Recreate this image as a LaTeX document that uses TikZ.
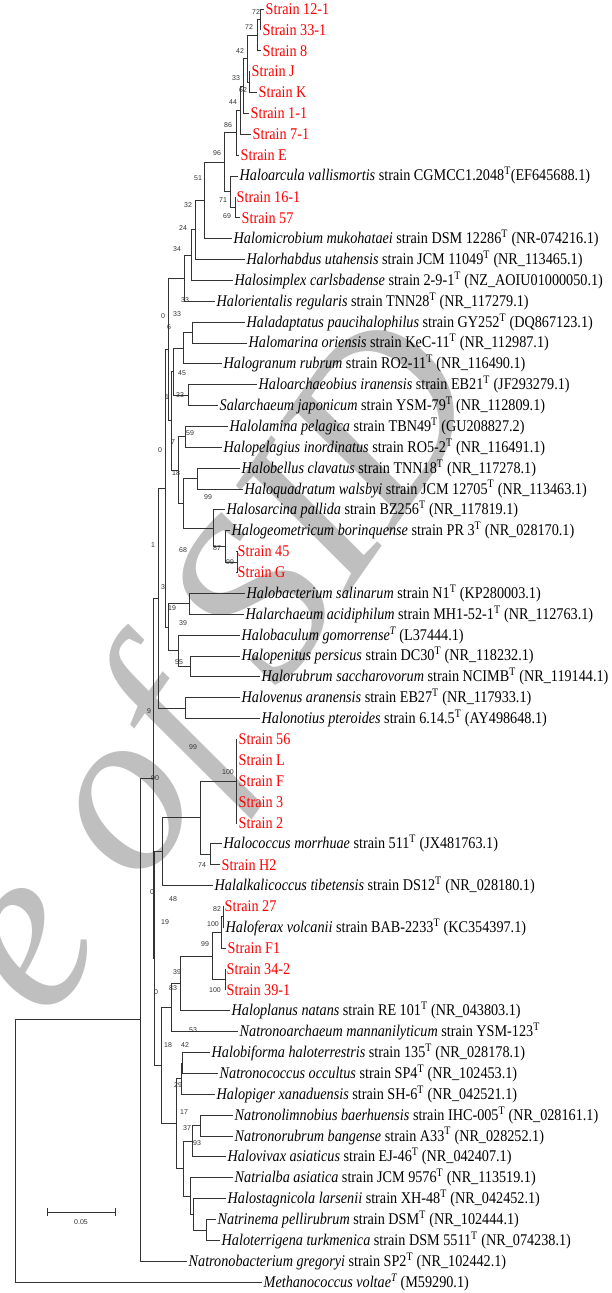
\documentclass[tikz,border=0pt]{standalone}
\usepackage{fontspec}
\setmainfont{Liberation Serif}
\setsansfont{Liberation Sans}
\usepackage{graphicx}
\usetikzlibrary{positioning,calc}

\newcommand{\tall}[1]{\scalebox{1}[1.15]{#1}}
\newcommand{\tp}{\textsuperscript{T}}

\tikzset{
  branch/.style={draw=black!80, line width=0.8pt},
  leaf/.style={anchor=west, inner sep=1.5pt, font=\fontsize{14.2}{15}\selectfont},
  strain/.style={leaf, text=red},
  taxon/.style={leaf, text=black},
  boot/.style={font=\sffamily\fontsize{7}{8}\selectfont, text=black!80, inner sep=0pt},
  wmark/.style={text=black!25, font=\itshape\fontsize{235}{235}\selectfont}
}

\begin{document}
\begin{tikzpicture}[x=1pt,y=-1pt]
\useasboundingbox (0,0) rectangle (612,1293);

% watermark
\node[wmark, rotate=55] (wm) at (222,675) {e of SID};

% tips and labels
\foreach \i/\tx/\st/\lab in {
  0/264/strain/{Strain 12-1},
  1/261/strain/{Strain 33-1},
  2/261/strain/{Strain 8},
  3/250/strain/{Strain J},
  4/257/strain/{Strain K},
  5/249/strain/{Strain 1-1},
  6/251/strain/{Strain 7-1},
  7/239/strain/{Strain E},
  8/238/taxon/{\textit{Haloarcula vallismortis} strain CGMCC1.2048\tp(EF645688.1)},
  9/235/strain/{Strain 16-1},
  10/240/strain/{Strain 57},
  11/232/taxon/{\textit{Halomicrobium mukohataei} strain DSM 12286\tp{} (NR-074216.1)},
  12/245/taxon/{\textit{Halorhabdus utahensis} strain JCM 11049\tp{} (NR\_113465.1)},
  13/233/taxon/{\textit{Halosimplex carlsbadense} strain 2-9-1\tp{} (NZ\_AOIU01000050.1)},
  14/215/taxon/{\textit{Halorientalis regularis} strain TNN28\tp{} (NR\_117279.1)},
  15/245/taxon/{\textit{Haladaptatus paucihalophilus} strain GY252\tp{} (DQ867123.1)},
  16/247/taxon/{\textit{Halomarina oriensis} strain KeC-11\tp{} (NR\_112987.1)},
  17/222/taxon/{\textit{Halogranum rubrum} strain RO2-11\tp{} (NR\_116490.1)},
  18/257/taxon/{\textit{Haloarchaeobius iranensis} strain EB21\tp{} (JF293279.1)},
  19/218/taxon/{\textit{Salarchaeum japonicum} strain YSM-79\tp{} (NR\_112809.1)},
  20/228/taxon/{\textit{Halolamina pelagica} strain TBN49\tp{} (GU208827.2)},
  21/222/taxon/{\textit{Halopelagius inordinatus} strain RO5-2\tp{} (NR\_116491.1)},
  22/240/taxon/{\textit{Halobellus clavatus} strain TNN18\tp{} (NR\_117278.1)},
  23/243/taxon/{\textit{Haloquadratum walsbyi} strain JCM 12705\tp{} (NR\_113463.1)},
  24/225/taxon/{\textit{Halosarcina pallida} strain BZ256\tp{} (NR\_117819.1)},
  25/230/taxon/{\textit{Halogeometricum borinquense} strain PR 3\tp{} (NR\_028170.1)},
  26/236/strain/{Strain 45},
  27/236/strain/{Strain G},
  28/245/taxon/{\textit{Halobacterium salinarum} strain N1\tp{} (KP280003.1)},
  29/244/taxon/{\textit{Halarchaeum acidiphilum} strain MH1-52-1\tp{} (NR\_112763.1)},
  30/240/taxon/{\textit{Halobaculum gomorrense\tp} (L37444.1)},
  31/240/taxon/{\textit{Halopenitus persicus} strain DC30\tp{} (NR\_118232.1)},
  32/260/taxon/{\textit{Halorubrum saccharovorum} strain NCIMB\tp{} (NR\_119144.1)},
  33/240/taxon/{\textit{Halovenus aranensis} strain EB27\tp{} (NR\_117933.1)},
  34/260/taxon/{\textit{Halonotius pteroides} strain 6.14.5\tp{} (AY498648.1)},
  35/237/strain/{Strain 56},
  36/237/strain/{Strain L},
  37/237/strain/{Strain F},
  38/237/strain/{Strain 3},
  39/237/strain/{Strain 2},
  40/222/taxon/{\textit{Halococcus morrhuae} strain 511\tp{} (JX481763.1)},
  41/220/strain/{Strain H2},
  42/213/taxon/{\textit{Halalkalicoccus tibetensis} strain DS12\tp{} (NR\_028180.1)},
  43/223/strain/{Strain 27},
  44/224/taxon/{\textit{Haloferax volcanii} strain BAB-2233\tp{} (KC354397.1)},
  45/226/strain/{Strain F1},
  46/225/strain/{Strain 34-2},
  47/225/strain/{Strain 39-1},
  48/230/taxon/{\textit{Haloplanus natans} strain RE 101\tp{} (NR\_043803.1)},
  49/238/taxon/{\textit{Natronoarchaeum mannanilyticum} strain YSM-123\tp},
  50/210/taxon/{\textit{Halobiforma haloterrestris} strain 135\tp{} (NR\_028178.1)},
  51/218/taxon/{\textit{Natronococcus occultus} strain SP4\tp{} (NR\_102453.1)},
  52/215/taxon/{\textit{Halopiger xanaduensis} strain SH-6\tp{} (NR\_042521.1)},
  53/233/taxon/{\textit{Natronolimnobius baerhuensis} strain IHC-005\tp{} (NR\_028161.1)},
  54/233/taxon/{\textit{Natronorubrum bangense} strain A33\tp{} (NR\_028252.1)},
  55/226/taxon/{\textit{Halovivax asiaticus} strain EJ-46\tp{} (NR\_042407.1)},
  56/233/taxon/{\textit{Natrialba asiatica} strain JCM 9576\tp{} (NR\_113519.1)},
  57/226/taxon/{\textit{Halostagnicola larsenii} strain XH-48\tp{} (NR\_042452.1)},
  58/216/taxon/{\textit{Natrinema pellirubrum} strain DSM\tp{} (NR\_102444.1)},
  59/220/taxon/{\textit{Haloterrigena turkmenica} strain DSM 5511\tp{} (NR\_074238.1)},
  60/187/taxon/{\textit{Natronobacterium gregoryi} strain SP2\tp{} (NR\_102442.1)},
  61/262/taxon/{\textit{Methanococcus voltae\tp} (M59290.1)}}
{
  \pgfmathsetmacro{\ty}{9+20.87*\i}
  \coordinate (t\i) at (\tx,\ty);
  \node[\st] (L\i) at (t\i) {\tall{\lab}};
}

% inner nodes: name/x/row
\foreach \n/\x/\k in {
  a1/260/0.5, a2/257/1.25, a3/249/3.5, a4/247/2.375, a5/243/3.6875,
  a6/240/4.844, a7/236/5.922, a8/235/9.5, a9/230/8.75, a10/224/7.336,
  a11/204/9.168, a12/195/10.584, a13/191/11.792, a14/184/12.896,
  m1/192/15.5, m2/183/16.25, m3/188/18.5, m4/173/17.375, m5/185/20.5,
  m6/197/22.5, m7/237/26.5, m8/225/25.75, m9/213/24.875, m10/183/23.6875,
  m11/178/22.094, m12/171/19.734, a15/168/16.315,
  c1/189/28.5, c2/190/31.5, c3/178/30.75, c4/168/29.625, a16/165/22.97,
  c5/185/33.5, a17/158/28.235,
  d1/236/37, d2/210/40.5, d3/200/38.75, d4/162/40.375,
  e1/223/43.5, e2/221/44.25, e3/225/46.5, e4/212/45.375, e5/180/46.6875,
  e6/171/47.844, f1/182/50.5, f2/181/51.25,
  g1/200/53.5, g2/192/54.25, g3/206/58.5, g4/193/57.75, g5/190/56.875,
  g6/183/55.5625, g7/176/53.406, g8/161/50.625,
  h1/154/45.5, a18/153/36.87, a19/140/48.43, rt/15/54.72}
{
  \pgfmathsetmacro{\ny}{9+20.87*\k}
  \coordinate (\n) at (\x,\ny);
}

% branches
\foreach \p/\c in {
  a1/t0, a1/t1, a2/a1, a2/t2, a3/t3, a3/t4, a4/a2, a4/a3, a5/a4, a5/t5,
  a6/a5, a6/t6, a7/a6, a7/t7, a8/t9, a8/t10, a9/t8, a9/a8, a10/a7, a10/a9,
  a11/a10, a11/t11, a12/a11, a12/t12, a13/a12, a13/t13, a14/a13, a14/t14,
  m1/t15, m1/t16, m2/m1, m2/t17, m3/t18, m3/t19, m4/m2, m4/m3,
  m5/t20, m5/t21, m6/t22, m6/t23, m7/t26, m7/t27, m8/t25, m8/m7,
  m9/t24, m9/m8, m10/m6, m10/m9, m11/m5, m11/m10, m12/m4, m12/m11,
  a15/a14, a15/m12,
  c1/t28, c1/t29, c2/t31, c2/t32, c3/t30, c3/c2, c4/c1, c4/c3,
  a16/a15, a16/c4, c5/t33, c5/t34, a17/a16, a17/c5,
  d1/t35, d1/t36, d1/t37, d1/t38, d1/t39, d2/t40, d2/t41, d3/d1, d3/d2,
  d4/d3, d4/t42,
  e1/t43, e1/t44, e2/e1, e2/t45, e3/t46, e3/t47, e4/e2, e4/e3,
  e5/e4, e5/t48, e6/e5, e6/t49,
  f1/t50, f1/t51, f2/f1, f2/t52,
  g1/t53, g1/t54, g2/g1, g2/t55, g3/t58, g3/t59, g4/t57, g4/g3,
  g5/t56, g5/g4, g6/g2, g6/g5, g7/f2, g7/g6, g8/e6, g8/g7,
  h1/d4, h1/g8, a18/a17, a18/h1, a19/a18, a19/t60, rt/a19, rt/t61}
  \draw[branch] (\p) |- (\c);

% bootstrap values
\foreach \x/\y/\b [count=\k] in {
  256/12/72, 249/27/72, 240/51/42, 236/78/33, 243/90/62, 233/102/44,
  228/125/86, 217/153/96, 198/178/51, 223/200/71, 227/216/69, 188/205/32,
  183/228/24, 177/249/34, 185/300/33, 163/316/0, 177/314/33, 169/327/6,
  182/373/45, 180/395/33, 167/397/1, 160/450/0, 173/442/7, 190/433/59,
  176/473/18, 208/497/99, 153/545/1, 183/550/68, 217/548/87, 230/562/99,
  163/587/3, 172/608/19, 183/623/39, 179/662/55, 149/711/9, 193/747/99,
  228/772/100, 155/778/90, 202/865/74, 152/892/0, 173/899/48, 217/909/82,
  165/922/19, 213/924/100, 205/944/99, 177/972/39, 156/992/0, 173/988/83,
  215/990/100, 193/1030/53, 168/1045/18, 185/1045/42, 178/1085/29,
  184/1112/17, 187/1128/37, 197/1143/93}
  \node[boot] (bs\k) at (\x,\y) {\b};

% scale bar
\coordinate (sb1) at (47,1212);
\coordinate (sb2) at (115,1212);
\draw[branch] (sb1) -- (sb2);
\draw[branch] ([yshift=4pt]sb1) -- ([yshift=-4pt]sb1);
\draw[branch] ([yshift=4pt]sb2) -- ([yshift=-4pt]sb2);
\node[boot, below=7pt of {$(sb1)!0.5!(sb2)$}] (sbl) {0.05};
\end{tikzpicture}
\end{document}
